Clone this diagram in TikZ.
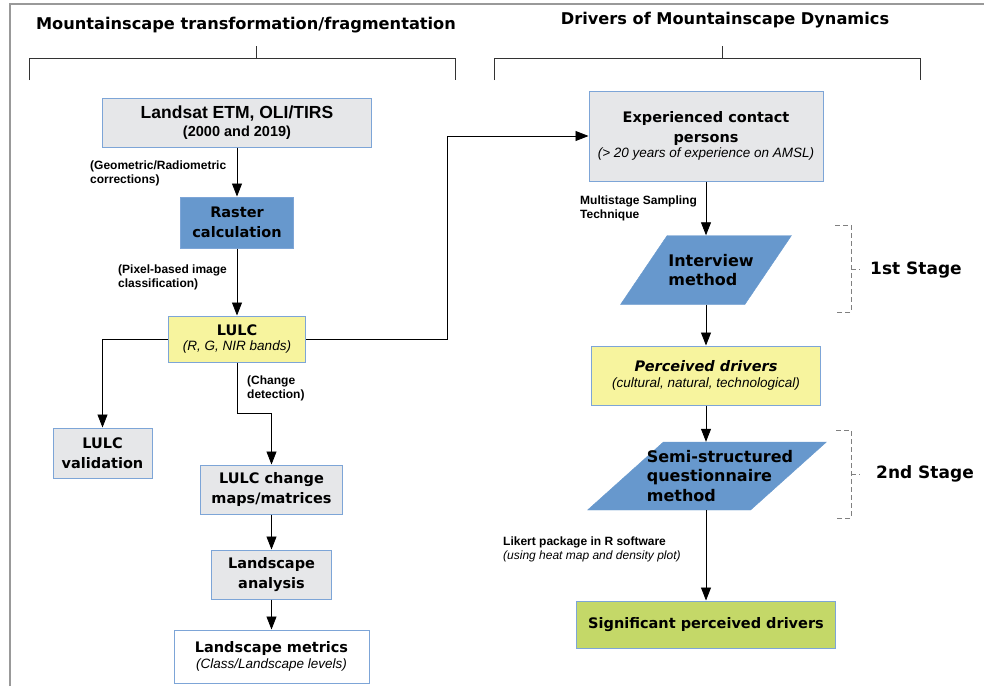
\documentclass[tikz,border=0pt]{standalone}
\usepackage{fontspec}
\setmainfont{Liberation Sans}
\newfontfamily\dvs{DejaVu Sans}
\usepackage{tikz}
\usetikzlibrary{shapes.geometric,arrows.meta,calc}
\definecolor{boxgray}{RGB}{230,231,233}
\definecolor{boxline}{RGB}{125,165,215}
\definecolor{rasblue}{RGB}{103,152,205}
\definecolor{lulcyel}{RGB}{247,244,158}
\definecolor{siggreen}{RGB}{196,216,104}
\newcommand{\subtxt}[1]{{\normalfont\itshape\fontsize{13.5}{15}\selectfont #1}}

\begin{document}
\begin{tikzpicture}[x=1pt,y=-1pt,
  box/.style={draw=boxline,line width=1pt,inner sep=0pt,align=center,
    font=\dvs\bfseries\fontsize{14.5}{19.5}\selectfont},
  gbox/.style={box,fill=boxgray},
  para/.style={trapezium,trapezium stretches=true,fill=rasblue,draw=rasblue,inner sep=2pt},
  ptext/.style={inner sep=0pt,align=left,font=\dvs\bfseries\fontsize{16}{19.5}\selectfont},
  note/.style={anchor=north west,inner sep=0pt,align=left,
    font=\bfseries\fontsize{12}{13.5}\selectfont},
  flow/.style={-{Triangle[length=13pt,width=10pt]},line width=0.8pt},
  brace/.style={line width=1pt,black!80},
  stage/.style={line width=1pt,gray,dash pattern=on 5pt off 3pt},
  title/.style={font=\dvs\bfseries\fontsize{16.2}{19}\selectfont,inner sep=0pt}]
\useasboundingbox (0,0) rectangle (984,686);
% frame
\draw[gray!80,line width=2pt] (10,686) -- (10,4) -- (984,4);

% titles and braces
\node[title] (tl) at (246,25) {Mountainscape transformation/fragmentation};
\node[title] (tr) at (725,20) {Drivers of Mountainscape Dynamics};
\draw[brace] (29,80) -- (29,58) -- (455,58) -- (455,80) (256,46) -- (256,58);
\draw[brace] (494,80) -- (494,58) -- (920,58) -- (920,80) (722,46) -- (722,58);

% left column
\node[gbox,minimum width=269pt,minimum height=49pt] (land) at (237,122.5)
  {{\normalfont\bfseries\fontsize{17.5}{18}\selectfont Landsat ETM, OLI/TIRS}\\[-2pt]
   {\normalfont\bfseries\fontsize{14.5}{16}\selectfont (2000 and 2019)}};
\node[box,fill=rasblue,minimum width=113pt,minimum height=51pt] (rast) at (237,222.5) {Raster\\calculation};
\node[box,fill=lulcyel,minimum width=137pt,minimum height=46pt] (lulc) at (237,339)
  {LULC\\[-4pt]\subtxt{(R, G, NIR bands)}};
\node[gbox,minimum width=99pt,minimum height=50pt] (valid) at (102.5,453) {LULC\\validation};
\node[gbox,minimum width=142pt,minimum height=49pt] (chg) at (271.5,489.5) {LULC change\\maps/matrices};
\node[gbox,minimum width=120pt,minimum height=49pt] (anal) at (271.5,574.5) {Landscape\\analysis};
\node[box,fill=white,minimum width=195pt,minimum height=53pt] (metr) at (271.5,656.5)
  {Landscape metrics\\[-4pt]\subtxt{(Class/Landscape levels)}};

% right column
\node[gbox,minimum width=234pt,minimum height=90pt] (exp) at (706,136)
  {Experienced contact\\persons\\[-4pt]\subtxt{(> 20 years of experience on AMSL)}};
\node[para,trapezium left angle=59,trapezium right angle=121,minimum width=171pt,minimum height=69pt,
  label={[ptext,xshift=5pt]center:Interview\\method}] (intv) at (706,270) {};
\node[box,fill=lulcyel,minimum width=229pt,minimum height=59pt] (perc) at (706,375.5)
  {\itshape Perceived drivers\\[-3pt]\subtxt{(cultural, natural, technological)}};
\node[para,trapezium left angle=49,trapezium right angle=131,minimum width=239pt,minimum height=68pt,
  label={[ptext,xshift=13pt]center:Semi-structured\\questionnaire\\method}] (semi) at (707,476) {};
\node[box,fill=siggreen,minimum width=259pt,minimum height=47pt] (sig) at (706,624.5) {Significant perceived drivers};

% connectors
\draw[flow] (land) -- (rast);
\draw[flow] (rast) -- (lulc);
\draw[flow] (lulc.west) -| (valid.north);
\draw[flow] (lulc.south) -- ++(0,51) -| (chg.north);
\draw[flow] (chg) -- (anal);
\draw[flow] (anal) -- (metr);
\draw[flow] (lulc.east) -- ++(141,0) |- (exp.west);
\draw[flow] (exp.south) -- (intv.north);
\draw[flow] (intv.south) -- (perc.north);
\draw[flow] (perc.south) -- (semi.north -| perc.south);
\draw[flow] (semi.south -| sig.north) -- (sig.north);

% notes
\node[note] (geo) at (90,161) {(Geometric/Radiometric\\corrections)};
\node[note] (pix) at (118,265) {(Pixel-based image\\classification)};
\node[note] (cd) at (247,376) {(Change\\detection)};
\node[note] (mst) at (580,196) {Multistage Sampling\\Technique};
\node[note] (lik) at (503,537) {Likert package in R software\\{\normalfont\itshape (using heat map and density plot)}};

% stages
\draw[stage] (835,225) -- (851,225) -- (851,312) -- (835,312) (851,269) -- (860,269);
\node[title,font=\dvs\bfseries\fontsize{17}{20}\selectfont,anchor=west] (s1) at (870,270) {1st Stage};
\draw[stage] (836,430) -- (851,430) -- (851,518) -- (836,518) (851,474) -- (860,474);
\node[title,font=\dvs\bfseries\fontsize{17}{20}\selectfont,anchor=west] (s2) at (876,474) {2nd Stage};
\end{tikzpicture}
\end{document}
